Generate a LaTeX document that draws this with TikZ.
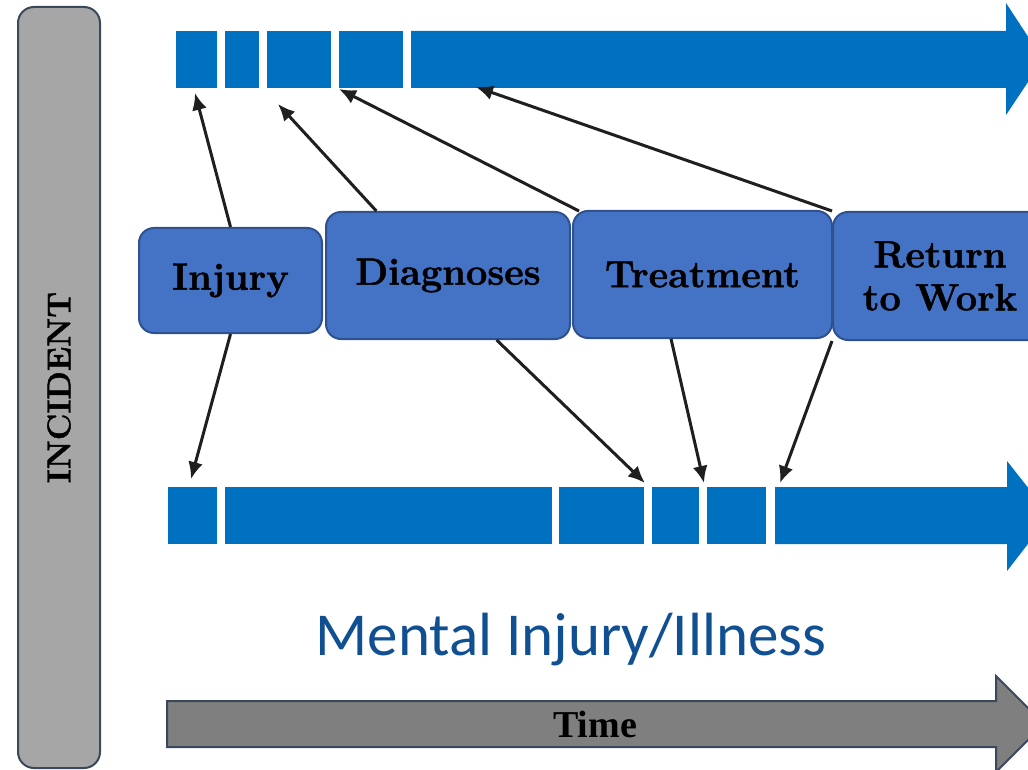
\documentclass[tikz,border=0pt]{standalone}
\usepackage{fontspec}
\usetikzlibrary{calc,arrows.meta}
\newfontfamily\timesfont{Liberation Serif}
\newfontfamily\calibrifont{Carlito}
\newfontfamily\stagefont[FakeBold=1.2]{Latin Modern Roman}
\definecolor{barblue}{RGB}{0,112,192}
\definecolor{boxblue}{RGB}{68,114,196}
\definecolor{boxedge}{RGB}{47,82,143}
\definecolor{slate}{RGB}{59,72,92}
\definecolor{lightgray}{RGB}{166,166,166}
\definecolor{timegray}{RGB}{127,127,127}
\definecolor{titleblue}{RGB}{16,80,146}

\begin{document}
\begin{tikzpicture}[x=0.5pt,y=-0.5pt]
\tikzset{stage/.style = {draw=boxedge, line width=1pt, fill=boxblue, rounded corners=7.5pt, inner sep=0pt, font=\stagefont\fontsize{19}{21.5}\selectfont\bfseries, align=center, minimum height=63.5pt},
  link/.style = {line width=1.5pt, draw={black!88}, -{Latex[length=8.5pt,width=7.5pt]}}}
\def\topA{31}
\def\topB{88}
\def\lowA{487}
\def\lowB{544}
\clip (0,0) rectangle (1028,770);

% incident bar
\node[draw=slate, line width=1pt, fill=lightgray, rounded corners=8pt, minimum width=41pt, minimum height=380.5pt] (incident) at (59,387.5) {};
\node[rotate=90, font=\stagefont\fontsize{16.5}{18}\selectfont\bfseries] (incidentlabel) at (incident.center) {INCIDENT};

% upper time line
\foreach \a/\b in {176/217,225/259,267/331,339/403}
  \fill[barblue] (\a,\topA) rectangle (\b,\topB);
\fill[barblue] (411,\topA) -- (1006,\topA) -- (1006,3) -- (1043,59.5) -- (1006,115) -- (1006,\topB) -- (411,\topB) -- cycle;

% lower time line
\foreach \a/\b in {168/217,225/552,559/644,652/699,707/766}
  \fill[barblue] (\a,\lowA) rectangle (\b,\lowB);
\fill[barblue] (775,\lowA) -- (1007,\lowA) -- (1007,461) -- (1050,515.5) -- (1007,571) -- (1007,\lowB) -- (775,\lowB) -- cycle;

% stages
\node[stage, minimum width=91.5pt, minimum height=52.5pt] (inj) at (230.5,280.5) {Injury};
\node[stage, minimum width=122pt] (diag) at (448,275.5) {Diagnoses};
\node[stage, minimum width=129.5pt] (treat) at (702.5,274.5) {Treatment};
\node[stage, minimum width=107pt, minimum height=64pt] (ret) at (940,276) {Return\\to Work};

\coordinate (up1) at (195,93);
\coordinate (up2) at (278,104);
\coordinate (up3) at (339,89);
\coordinate (up4) at (476,87);
\coordinate (dn1) at (191,479);
\coordinate (dn2) at (645,483);
\coordinate (dn3) at (704,483);
\coordinate (dn4) at (780,483);

\draw[link] (inj.north) -- (up1);
\draw[link] (diag.138) -- (up2);
\draw[link] ($(treat.north west)+(7,1)$) -- (up3);
\draw[link] (ret.north west) -- (up4);
\draw[link] (inj.south) -- (dn1);
\draw[link] (diag.-53) -- (dn2);
\draw[link] (treat.-116) -- (dn3);
\draw[link] (ret.south west) -- (dn4);

\node[text=titleblue, font=\calibrifont\fontsize{30.5}{34}\selectfont] (title) at (571,640) {Mental Injury/Illness};

% time axis
\filldraw[fill=timegray, draw=slate, line width=1pt] (167,701) -- (996,701) -- (996,676) -- (1044,724) -- (996,772) -- (996,747) -- (167,747) -- cycle;
\node[font=\timesfont\fontsize{19}{21}\selectfont\bfseries] (time) at (595,724) {Time};
\end{tikzpicture}
\end{document}
